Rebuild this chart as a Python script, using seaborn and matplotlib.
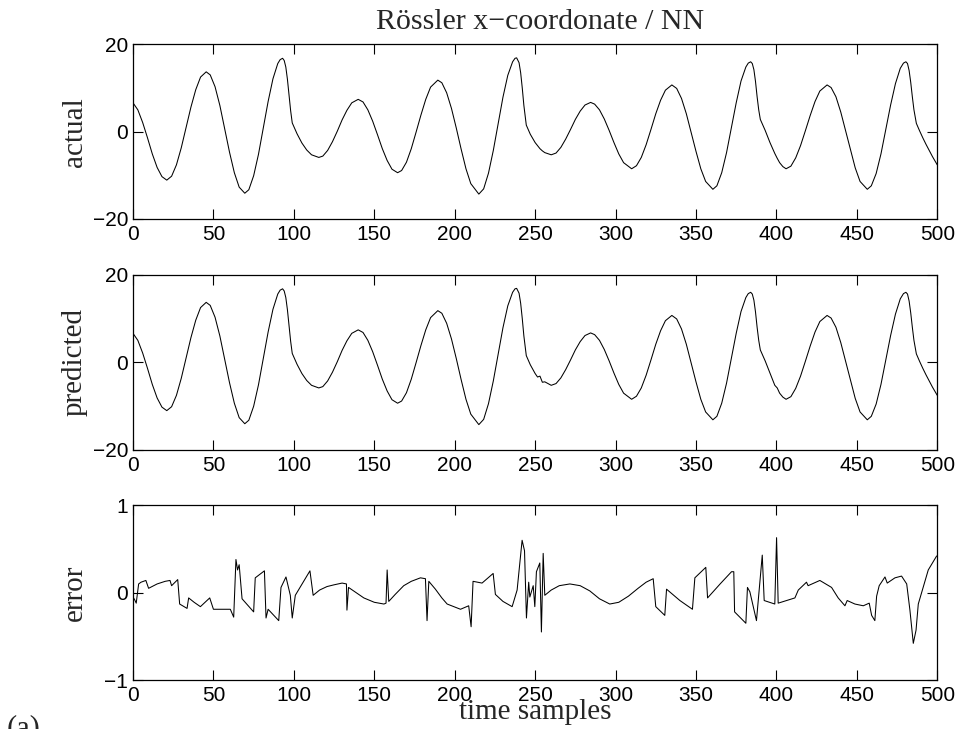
import matplotlib
matplotlib.use("Agg")
import matplotlib.pyplot as plt
import numpy as np
import pandas as pd
import seaborn as sns

# ---------------- data ----------------
samples = [0, 3, 6, 9, 12, 15, 18, 21, 24, 27, 30, 33, 36, 39, 42, 45.5, 48, 51, 54, 57,
           60, 63, 66, 69.5, 72, 75, 78, 81, 84, 87, 90, 91.5, 93, 94, 95, 96, 97, 98, 99,
           102, 105, 108, 111, 115.5, 118, 121, 124, 127, 130, 133, 136, 140, 143, 146, 149,
           152, 155, 158, 161, 164.5, 167, 170, 173, 176, 179, 182, 185, 189.5, 192, 195,
           198, 201, 204, 207, 210, 215, 218, 221, 224, 227, 230, 233, 236, 237.5, 238.5,
           240, 241, 242, 243, 244.5, 247, 250, 251.5, 253, 254.5, 256, 260, 263, 266, 269,
           272, 275, 278, 281, 284.5, 287, 290, 293, 296, 299, 302, 305, 310, 313, 316, 319,
           322, 325, 328, 331, 335, 338, 341, 344, 347, 350, 353, 356, 360.5, 363, 366, 369,
           372, 375, 378, 381, 382.5, 384, 385, 386, 387, 388, 389, 390, 393, 396, 399,
           400.5, 402, 404, 406, 409, 412, 415, 418, 421, 424, 427, 431.5, 434, 437, 440,
           443, 446, 449, 452, 456.5, 459, 462, 465, 468, 471, 474, 477, 479, 480.5, 481.5,
           482.5, 483.5, 484.5, 485.5, 487, 489, 491, 493, 495, 497, 500]

actual = [6.6, 5.0, 2.1, -1.4, -5.1, -8.2, -10.3, -11.1, -10.2, -7.6, -3.7, 0.9, 5.6, 9.6, 12.5, 13.7, 13.0, 10.3, 6.0, 0.7,
          -4.7, -9.4, -12.7, -14.1, -13.3, -10.1, -5.2, 0.8, 6.9, 12.1, 15.6, 16.5, 16.8, 16.3, 14.8, 12.0, 8.5, 4.8, 2.0,
          -0.5, -2.6, -4.2, -5.3, -5.9, -5.6, -4.3, -2.3, 0.1, 2.7, 4.9, 6.6, 7.4, 6.8, 5.0, 2.4,
          -0.7, -3.9, -6.6, -8.6, -9.4, -8.9, -7.0, -3.9, -0.1, 3.8, 7.4, 10.2, 11.8, 11.2, 8.9,
          5.3, 0.8, -4.0, -8.5, -11.9, -14.3, -13.1, -9.5, -4.3, 1.8, 7.9, 12.9, 16.0, 16.8, 16.9,
          15.8, 13.5, 10.0, 6.0, 1.5, -0.6, -2.5, -3.2, -3.9, -4.4, -4.8, -5.3, -4.9, -3.6, -1.7,
          0.5, 2.8, 4.7, 6.1, 6.7, 6.3, 5.0, 2.9, 0.3, -2.5, -5.1, -7.1, -8.5, -7.8, -5.9, -3.0,
          0.5, 4.1, 7.2, 9.5, 10.7, 9.9, 7.6, 4.1, -0.2, -4.5, -8.5, -11.4, -13.2, -12.4, -9.4, -4.8,
          0.9, 6.6, 11.6, 14.8, 15.7, 16.0, 15.6, 14.2, 11.5, 8.0, 5.0, 2.8, 0.3, -2.5, -5.0,
          -6.1, -7.1, -8.0, -8.5, -7.9, -6.0, -3.2, 0.2, 3.7, 6.9, 9.3, 10.7, 10.1, 8.0, 4.5,
          0.2, -4.2, -8.3, -11.4, -13.2, -12.4, -9.6, -5.1, 0.5, 6.1, 11.0, 14.5, 15.7, 16.0, 15.6,
          14.0, 11.3, 8.0, 5.0, 1.9, 0.2, -1.4, -2.9, -4.3, -5.7, -7.6]

predicted = [6.6, 5.0, 2.1, -1.4, -5.1, -8.2, -10.3, -11.1, -10.2, -7.6, -3.7, 0.9, 5.6, 9.6, 12.5, 13.7, 13.0, 10.3, 6.0, 0.7,
             -4.7, -9.4, -12.7, -14.1, -13.3, -10.1, -5.2, 0.8, 6.9, 12.1, 15.6, 16.5, 16.8, 16.3, 14.8, 12.0, 8.5, 4.8, 2.0,
             -0.5, -2.6, -4.2, -5.3, -5.9, -5.6, -4.3, -2.3, 0.1, 2.7, 4.9, 6.6, 7.4, 6.8, 5.0, 2.4,
             -0.7, -3.9, -6.6, -8.6, -9.4, -8.9, -7.0, -3.9, -0.1, 3.8, 7.4, 10.2, 11.8, 11.2, 8.9,
             5.3, 0.8, -4.0, -8.5, -11.9, -14.3, -13.1, -9.5, -4.3, 1.8, 7.9, 12.9, 16.0, 16.8, 16.9,
             15.8, 13.5, 10.0, 6.0, 1.5, -0.6, -2.6, -3.4, -3.2, -4.6, -4.5, -5.3, -4.9, -3.6, -1.7,
             0.5, 2.8, 4.7, 6.1, 6.7, 6.3, 5.0, 2.9, 0.3, -2.5, -5.1, -7.1, -8.5, -7.8, -5.9, -3.0,
             0.5, 4.1, 7.2, 9.5, 10.7, 9.9, 7.6, 4.1, -0.2, -4.5, -8.5, -11.4, -13.2, -12.4, -9.4, -4.8,
             0.9, 6.6, 11.6, 14.8, 15.7, 16.0, 15.6, 14.2, 11.5, 8.0, 5.0, 2.8, 0.3, -2.5, -5.3,
             -5.9, -7.1, -8.0, -8.5, -7.9, -6.0, -3.2, 0.2, 3.7, 6.9, 9.3, 10.7, 10.1, 8.0, 4.5,
             0.2, -4.2, -8.3, -11.4, -13.2, -12.4, -9.6, -5.1, 0.5, 6.1, 11.0, 14.5, 15.7, 16.0, 15.6,
             14.0, 11.3, 8.0, 5.0, 1.9, 0.2, -1.4, -2.9, -4.3, -5.7, -7.6]

err_samples = [0, 1, 2, 3.5, 5, 8, 9.7, 15, 20, 23, 24, 27.8, 29, 33.6, 34.6, 38, 41.9, 47.7, 50,
               60.5, 62.6, 64, 65, 66, 67.8, 75, 76, 81.7, 82.7, 84, 90.6, 92, 95.1, 97.8, 99,
               100.9, 110, 112, 116, 120.6, 125, 130, 132.7, 133, 134, 138, 143.5, 150, 156,
               157.3, 158, 159, 163, 168.3, 173, 178.7, 181.8, 182.8, 183.9, 188, 192, 195.3,
               203.6, 208.7, 210.2, 211.4, 217, 223.9, 225.3, 230, 235.7, 238.8, 241.9, 243.4,
               244.6, 246, 246.7, 248.8, 249.8, 250.8, 252.9, 253.9, 255, 256, 260, 265, 271.6,
               278, 284, 290, 296.4, 302, 308, 314, 319, 323.4, 325, 330.6, 331.7, 340, 347.8,
               349.3, 356.1, 357.2, 365, 372.1, 373.5, 374, 381, 382, 383.5, 387.6, 391.2, 392.4,
               399, 400.1, 401.1, 411.5, 413.6, 418.7, 419.7, 427, 434.3, 438.4, 442.6, 444,
               448.8, 454, 457.7, 459.2, 461.2, 462.3, 463.9, 467.5, 468.9, 473.7, 477.8, 481,
               483, 485.1, 486.8, 488.2, 494.4, 499.6]

error = [-0.05, -0.08, -0.12, 0.10, 0.12, 0.14, 0.05, 0.10, 0.13, 0.14, 0.08, 0.15, -0.13, -0.18, -0.06, -0.11, -0.16, -0.06, -0.19,
         -0.19, -0.28, 0.38, 0.26, 0.32, -0.07, -0.22, 0.17, 0.25, -0.29, -0.19, -0.32, 0.06, 0.18, -0.03, -0.29,
         -0.03, 0.25, -0.03, 0.03, 0.07, 0.09, 0.11, 0.10, -0.20, 0.06, 0.01, -0.06, -0.11, -0.13,
         -0.12, 0.26, -0.10, -0.02, 0.08, 0.13, 0.17, 0.16, -0.32, 0.13, 0.04, -0.06, -0.13,
         -0.19, -0.15, -0.39, 0.13, 0.11, 0.22, -0.02, -0.10, -0.16, 0.03, 0.60, 0.48,
         -0.29, 0.12, -0.05, 0.08, -0.16, 0.24, 0.34, -0.45, 0.45, -0.03, 0.03, 0.08, 0.10,
         0.08, 0.02, -0.07, -0.13, -0.11, -0.04, 0.05, 0.12, 0.16, -0.16, -0.26, 0.04, -0.09, -0.19,
         0.17, 0.29, -0.06, 0.10, 0.24, 0.24, -0.22, -0.35, 0.06, 0.01, -0.32, 0.43, -0.09,
         -0.13, 0.63, -0.12, -0.06, 0.03, 0.12, 0.08, 0.14, 0.06, -0.06, -0.15, -0.09,
         -0.13, -0.15, -0.12, -0.26, -0.32, -0.04, 0.08, 0.18, 0.11, 0.17, 0.19, 0.10,
         -0.20, -0.58, -0.43, -0.13, 0.26, 0.42]

x_ticks = [0, 50, 100, 150, 200, 250, 300, 350, 400, 450, 500]
big_yticks = [-20, 0, 20]
err_yticks = [-1, 0, 1]

title_text = "Rössler x\u2212coordonate / NN"
panel_labels = ["actual", "predicted", "error"]
xlabel_text = "time samples"
corner_text = "(a)"

# ---------------- styling ----------------
sns.set_theme(style="white")
plt.rcParams["font.family"] = ["Liberation Sans", "DejaVu Sans"]
plt.rcParams["axes.unicode_minus"] = True
serif = ["Liberation Serif", "DejaVu Serif"]

df_main = pd.DataFrame({"sample": samples, "actual": actual, "predicted": predicted})
df_err = pd.DataFrame({"sample": err_samples, "error": error})

fig = plt.figure(figsize=(9.61, 7.29), dpi=100)
left, width, height = 0.1384, 0.8369, 0.2396
bottoms = [0.6996, 0.3834, 0.0672]
axes = [fig.add_axes([left, b, width, height]) for b in bottoms]

lw = 0.75
sns.lineplot(data=df_main, x="sample", y="actual", ax=axes[0], color="black",
             linewidth=lw, estimator=None, sort=False)
sns.lineplot(data=df_main, x="sample", y="predicted", ax=axes[1], color="black",
             linewidth=lw, estimator=None, sort=False)
sns.lineplot(data=df_err, x="sample", y="error", ax=axes[2], color="black",
             linewidth=lw, estimator=None, sort=False)

for i, ax in enumerate(axes):
    ax.set_xlim(0, 500)
    ax.set_xticks(x_ticks)
    if i < 2:
        ax.set_ylim(-20, 20)
        ax.set_yticks(big_yticks)
    else:
        ax.set_ylim(-1, 1)
        ax.set_yticks(err_yticks)
    ax.set_xlabel("")
    ax.set_ylabel("")
    for sp in ax.spines.values():
        sp.set_visible(True)
        sp.set_color("black")
        sp.set_linewidth(0.9)
    ax.tick_params(axis="both", which="major", direction="in", length=7, width=0.8,
                   color="black", labelcolor="black", labelsize=15,
                   bottom=True, top=True, left=True, right=True)
    ax.tick_params(axis="x", pad=4.5)
    ax.tick_params(axis="y", pad=3.5)
    ax.set_facecolor("white")
    cy = bottoms[i] + height / 2
    fig.text(0.078, cy, panel_labels[i], rotation=90, ha="center", va="center",
             fontsize=21, family=serif)

fig.text(0.562, 0.960, title_text, ha="center", va="baseline", fontsize=21.5, family=serif)
fig.text(0.557, 0.0137, xlabel_text, ha="center", va="baseline", fontsize=21, family=serif)
fig.text(0.007, -0.010, corner_text, ha="left", va="baseline", fontsize=22, family=serif)

fig.savefig("out.png", dpi=100, facecolor="white")
